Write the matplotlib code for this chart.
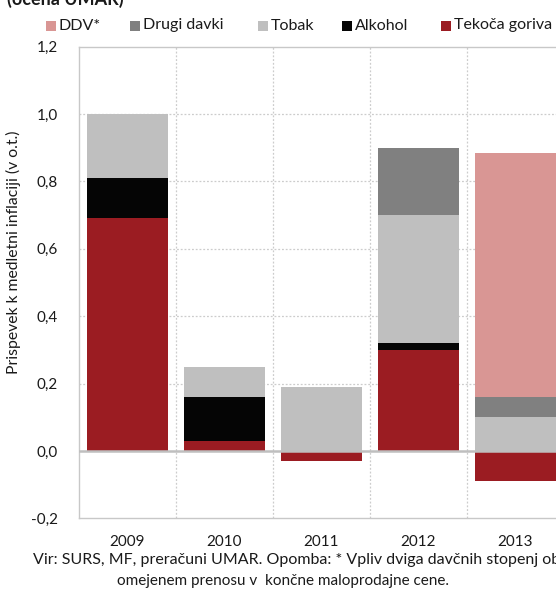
import numpy as np
import matplotlib
matplotlib.use("Agg")
import matplotlib.pyplot as plt
from matplotlib.patches import Rectangle

plt.rcParams['font.family'] = ['Lato', 'DejaVu Sans']

years = ["2009", "2010", "2011", "2012", "2013"]
tekoca_goriva = [0.69, 0.03, -0.03, 0.30, -0.09]
alkohol = [0.12, 0.13, 0.00, 0.02, 0.00]
tobak = [0.19, 0.09, 0.19, 0.38, 0.10]
drugi_davki = [0.00, 0.00, 0.00, 0.20, 0.06]
ddv = [0.00, 0.00, 0.00, 0.00, 0.725]

series = [
    ("Tekoča goriva", tekoca_goriva, "#9b1c22"),
    ("Alkohol", alkohol, "#050505"),
    ("Tobak", tobak, "#bfbfbf"),
    ("Drugi davki", drugi_davki, "#808080"),
    ("DDV*", ddv, "#d99694"),
]
legend_order = ["DDV*", "Drugi davki", "Tobak", "Alkohol", "Tekoča goriva"]
legend_x = [46, 130, 258, 342, 441]  # left edge of each legend swatch, px

W, H = 556, 590
fig = plt.figure(figsize=(W / 100, H / 100), dpi=100)
ax = fig.add_axes([79 / W, (H - 518.4) / H, 485 / W, (518.4 - 46.6) / H])

x = np.arange(len(years))
pos_base = np.zeros(len(years))
neg_base = np.zeros(len(years))
for name, vals, col in series:
    v = np.array(vals, dtype=float)
    bottoms = np.where(v >= 0, pos_base, neg_base)
    ax.bar(x, v, width=0.825, bottom=bottoms, color=col, linewidth=0, zorder=3)
    pos_base = pos_base + np.where(v > 0, v, 0)
    neg_base = neg_base + np.where(v < 0, v, 0)

ax.set_xlim(-0.5, len(years) - 0.5)
ax.set_ylim(-0.2, 1.2)
yticks = np.arange(-0.2, 1.21, 0.2)
ax.set_yticks(yticks)
ax.set_yticklabels([f"{t:.1f}".replace(".", ",").replace("-0,0", "0,0") for t in yticks])
ax.set_xticks(x)
ax.set_xticklabels(years)
ax.tick_params(axis='both', length=0, labelsize=11, colors="#1a1a1a")
ax.tick_params(axis='y', pad=15)
ax.tick_params(axis='x', pad=12)

# category separators and horizontal gridlines
for b in x[:-1] + 0.5:
    ax.axvline(b, color="#cccccc", lw=0.9, ls=(0, (1.5, 1.5)), zorder=1)
for t in yticks[1:-1]:
    if abs(t) > 1e-9:
        ax.axhline(t, color="#cccccc", lw=0.9, ls=(0, (1.5, 1.5)), zorder=1)
ax.axhline(0, color="#bfbfbf", lw=1.8, zorder=4)

for s in ax.spines.values():
    s.set_color("#c8c8c8")
    s.set_linewidth(1.0)

ax.set_ylabel("Prispevek k medletni inflaciji (v o.t.)", fontsize=11.3, color="#1a1a1a")
ax.yaxis.set_label_coords(-57.5 / 485, 0.565)

# legend row
colors = {name: col for name, _, col in series}
for name, lx in zip(legend_order, legend_x):
    fig.patches.append(Rectangle((lx / W, 1 - 30.5 / H), 10 / W, 10 / H,
                                 transform=fig.transFigure, facecolor=colors[name],
                                 edgecolor='none'))
    fig.text((lx + 13) / W, 1 - 25.5 / H, name, fontsize=11.5, color="#1a1a1a",
             ha="left", va="center")

fig.text(7 / W, 1 - 5 / H, "(ocena UMAR)", fontsize=13, fontweight="bold",
         color="#1a1a1a", ha="left", va="baseline")

fig.text(33 / W, 1 - 560 / H,
         "Vir: SURS, MF, preračuni UMAR. Opomba: * Vpliv dviga davčnih stopenj ob",
         fontsize=11.5, color="#1a1a1a", ha="left", va="center")
fig.text(283 / W, 1 - 581 / H, "omejenem prenosu v  končne maloprodajne cene.",
         fontsize=11.0, color="#1a1a1a", ha="center", va="center")

fig.savefig("out.png", dpi=100)
